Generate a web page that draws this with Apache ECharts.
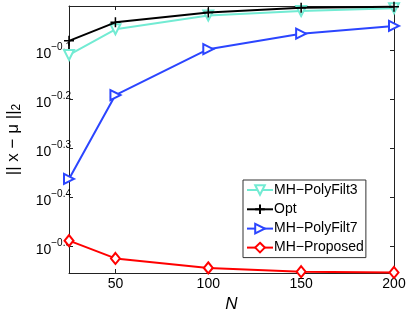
<!DOCTYPE html>
<html>
<head>
<meta charset="utf-8">
<script src="https://cdn.jsdelivr.net/npm/echarts@6/dist/echarts.min.js"></script>
<style>html,body{margin:0;padding:0;background:#fff}#c{width:409px;height:310px}</style>
</head>
<body>
<div id="c"></div>
<script>
// Data (values of ||x - mu||_2)
const N = [25, 50, 100, 150, 200];
const polyFilt3 = [0.776, 0.875, 0.933, 0.953, 0.966];
const opt = [0.829, 0.904, 0.947, 0.968, 0.973];
const polyFilt7 = [0.434, 0.643, 0.797, 0.857, 0.889];
const proposed = [0.325, 0.299, 0.286, 0.281, 0.280];
const yTickExps = [-0.5, -0.4, -0.3, -0.2, -0.1];
const xTicks = [50, 100, 150, 200];

const toPairs = arr => arr.map((v, i) => [N[i], Math.log10(v)]);

const chart = echarts.init(document.getElementById('c'), null, {renderer: 'canvas'});
const font = 'Liberation Sans, Arial, sans-serif';
const axisLine = {show: true, lineStyle: {color: '#222', width: 1}};
const tickStyle = {show: true, inside: true, length: 4, lineStyle: {color: '#222'}};

const option = {
  animation: false,
  backgroundColor: '#fff',
  grid: {left: 69, right: 15, top: 6, bottom: 37, containLabel: false, outerBoundsMode: 'none'},
  legend: {
    orient: 'vertical',
    left: 243, top: 180,
    padding: [3, 2, 3, 3],
    backgroundColor: '#fff',
    borderColor: '#333', borderWidth: 1, borderRadius: 0,
    itemWidth: 26, itemHeight: 12, itemGap: 5,
    textStyle: {fontFamily: font, fontSize: 14, color: '#000', padding: [0, 0, 0, -4]},
    data: ['MH\u2212PolyFilt3', 'Opt', 'MH\u2212PolyFilt7', 'MH\u2212Proposed']
  },
  xAxis: [{
    type: 'value', min: 25, max: 200,
    axisLine: axisLine,
    axisTick: Object.assign({customValues: xTicks}, tickStyle),
    splitLine: {show: false},
    axisLabel: {customValues: xTicks, fontFamily: font, fontSize: 14, color: '#000', margin: 4},
    name: 'N', nameLocation: 'middle', nameGap: 15,
    nameTextStyle: {fontFamily: font, fontSize: 17, fontStyle: 'italic', color: '#000'}
  }, {
    type: 'value', min: 25, max: 200, position: 'top',
    axisLine: axisLine,
    axisTick: Object.assign({customValues: xTicks}, tickStyle),
    axisLabel: {show: false}, splitLine: {show: false}
  }],
  yAxis: [{
    type: 'value', min: -0.554, max: -0.0106,
    axisLine: axisLine,
    axisTick: Object.assign({customValues: yTickExps}, tickStyle),
    splitLine: {show: false},
    axisLabel: {
      customValues: yTickExps, margin: -2,
      formatter: v => '{b|10}{s|\u2212' + Math.abs(v).toFixed(1) + '}',
      rich: {
        b: {fontFamily: font, fontSize: 14, color: '#000', padding: [8, 0, 0, 0]},
        s: {fontFamily: font, fontSize: 10, color: '#000', padding: [0, 0, 6, 0]}
      }
    },
    name: '{a||| x \u2212 \u03bc ||}{t|2}', nameLocation: 'middle', nameGap: 46,
    nameTextStyle: {
      rich: {
        a: {fontFamily: font, fontSize: 17, color: '#000'},
        t: {fontFamily: font, fontSize: 12, color: '#000', padding: [8, 0, 0, 0]}
      }
    }
  }, {
    type: 'value', min: -0.554, max: -0.0106, position: 'right',
    axisLine: axisLine,
    axisTick: Object.assign({customValues: yTickExps}, tickStyle),
    axisLabel: {show: false}, splitLine: {show: false}
  }],
  series: [
    {
      name: 'MH\u2212PolyFilt3', type: 'line', data: toPairs(polyFilt3),
      symbol: 'emptyTriangle', symbolSize: 10, symbolRotate: 180,
      lineStyle: {color: '#72ebd3', width: 2}, itemStyle: {color: '#72ebd3', borderWidth: 1.5}, z: 3
    },
    {
      name: 'Opt', type: 'line', data: toPairs(opt),
      symbol: 'path://M5,0L5,10M0,5L10,5', symbolSize: 10, symbolKeepAspect: true,
      lineStyle: {color: '#000', width: 2}, itemStyle: {color: 'none', borderColor: '#000', borderWidth: 1.5}, z: 4
    },
    {
      name: 'MH\u2212PolyFilt7', type: 'line', data: toPairs(polyFilt7),
      symbol: 'emptyTriangle', symbolSize: 10, symbolRotate: -90,
      lineStyle: {color: '#2b45ff', width: 2}, itemStyle: {color: '#2b45ff', borderWidth: 1.5}, z: 3
    },
    {
      name: 'MH\u2212Proposed', type: 'line', data: toPairs(proposed),
      symbol: 'emptyDiamond', symbolSize: [9, 11],
      lineStyle: {color: '#ff0000', width: 2}, itemStyle: {color: '#ff0000', borderWidth: 1.5}, z: 3
    }
  ]
};
chart.setOption(option);
</script>
</body>
</html>
